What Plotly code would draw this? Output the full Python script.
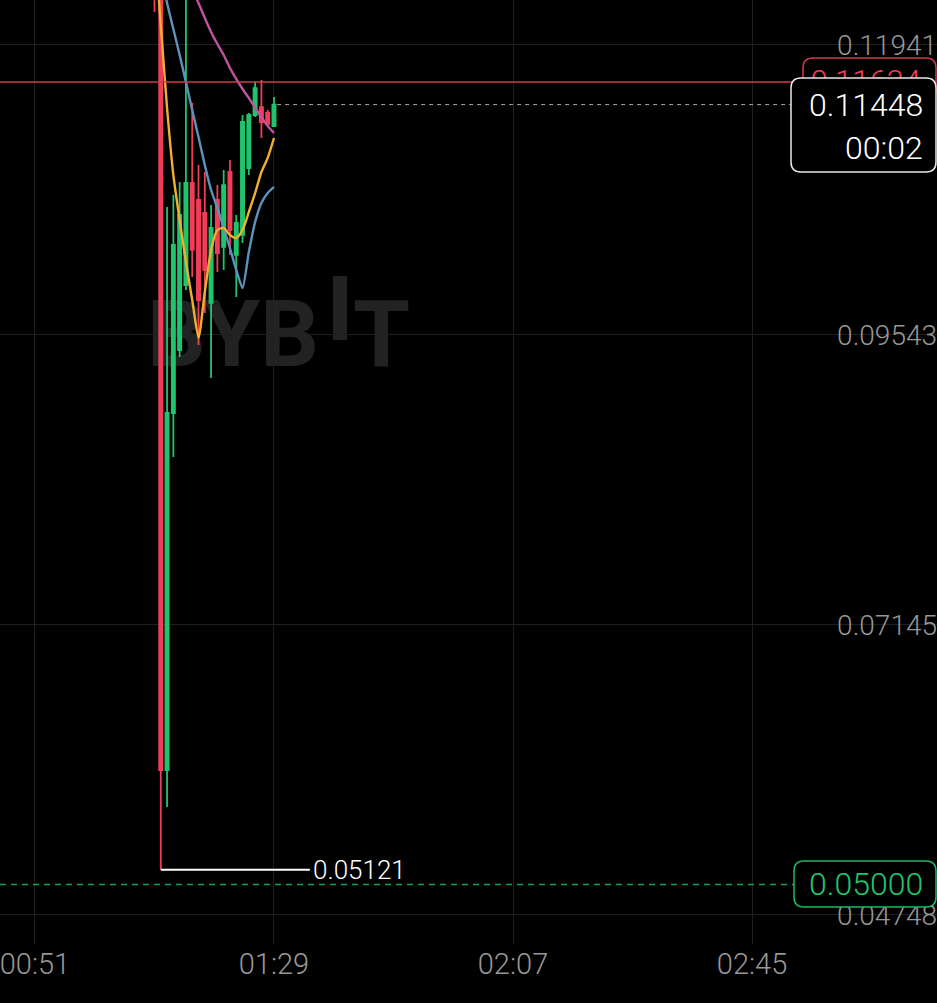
import plotly.graph_objects as go

# ---------------- data ----------------
times  = ["01:10", "01:11", "01:12", "01:13", "01:14", "01:15", "01:16", "01:17", "01:18", "01:19",
          "01:20", "01:21", "01:22", "01:23", "01:24", "01:25", "01:26", "01:27", "01:28", "01:29"]
opens  = [0.12975, 0.12809, 0.05946, 0.08898, 0.09419, 0.09956, 0.10800, 0.10659, 0.10552, 0.09808,
          0.10659, 0.10271, 0.10891, 0.10205, 0.10370, 0.10924, 0.11362, 0.11428, 0.11379, 0.11271]
highs  = [0.13140, 0.12892, 0.10601, 0.10701, 0.10808, 0.12644, 0.11461, 0.10949, 0.10891, 0.10618,
          0.10783, 0.10907, 0.10990, 0.10535, 0.11362, 0.11379, 0.11635, 0.11652, 0.11404, 0.11511]
lows   = [0.12214, 0.05121, 0.05640, 0.08534, 0.09361, 0.09915, 0.10023, 0.09460, 0.09725, 0.09187,
          0.10064, 0.10080, 0.10205, 0.09857, 0.10304, 0.10866, 0.11346, 0.11172, 0.11271, 0.11263]
closes = [0.12396, 0.05946, 0.08898, 0.10287, 0.10535, 0.10800, 0.10246, 0.09832, 0.10080, 0.10428,
          0.10221, 0.10783, 0.10411, 0.10469, 0.11304, 0.11362, 0.11585, 0.11304, 0.11288, 0.11448]

ma_times  = times
ma_yellow = [0.12809, 0.12106, 0.11420, 0.10866, 0.10494, 0.10147, 0.09832, 0.09518, 0.09899, 0.10246,
             0.10411, 0.10428, 0.10370, 0.10345, 0.10411, 0.10560, 0.10717, 0.10891, 0.11007, 0.11172]
ma_blue   = [0.12727, 0.12520, 0.12288, 0.12073, 0.11858, 0.11635, 0.11404, 0.11180, 0.10949, 0.10742,
             0.10593, 0.10428, 0.10262, 0.10081, 0.09932, 0.10229, 0.10477, 0.10635, 0.10717, 0.10767]
ma_pink_times = times[3:]
ma_pink   = [0.12768, 0.12644, 0.12520, 0.12396, 0.12288, 0.12164, 0.12049, 0.11949, 0.11858, 0.11751,
             0.11660, 0.11577, 0.11503, 0.11420, 0.11346, 0.11271, 0.11213]

y_tick_vals = [0.11941, 0.09543, 0.07145, 0.04748]
x_tick_labels = ["00:51", "01:29", "02:07", "02:45"]
last_price = 0.11448
countdown = "00:02"
ref_price = 0.11634
order_price = 0.05000

# ---------------- helpers ----------------
def to_min(t):
    h, m = t.split(":")
    return int(h) * 60 + int(m)

W, H = 937, 944  # plot area in px (for decorative boxes)
def px(x):
    return x / W
def py(y):
    return 1 - y / H

def rrect(x0, y0, x1, y1, r):
    rx, ry = r / W, r / H
    X0, X1 = px(x0), px(x1)
    Y0, Y1 = py(y0), py(y1)
    return (f"M {X0+rx},{Y0} L {X1-rx},{Y0} Q {X1},{Y0} {X1},{Y0-ry} "
            f"L {X1},{Y1+ry} Q {X1},{Y1} {X1-rx},{Y1} L {X0+rx},{Y1} "
            f"Q {X0},{Y1} {X0},{Y1+ry} L {X0},{Y0-ry} Q {X0},{Y0} {X0+rx},{Y0} Z")

xs = [to_min(t) for t in times]
GREEN = "#1fc46d"
RED = "#f03d58"
GRID = "#1e1e1e"
TICK = "#979797"
FONT = "Roboto"

fig = go.Figure()

fig.add_trace(go.Candlestick(
    x=xs, open=opens, high=highs, low=lows, close=closes,
    increasing=dict(line=dict(color=GREEN, width=1.8), fillcolor=GREEN),
    decreasing=dict(line=dict(color=RED, width=1.8), fillcolor=RED),
    whiskerwidth=0, hoverinfo="skip", showlegend=False,
))

fig.add_trace(go.Scatter(x=[to_min(t) for t in ma_times], y=ma_blue, mode="lines",
                         line=dict(color="#5b93bd", width=2.4, shape="spline", smoothing=0.6),
                         hoverinfo="skip", showlegend=False))
fig.add_trace(go.Scatter(x=[to_min(t) for t in ma_times], y=ma_yellow, mode="lines",
                         line=dict(color="#f0b02c", width=2.4, shape="spline", smoothing=0.6),
                         hoverinfo="skip", showlegend=False))
fig.add_trace(go.Scatter(x=[to_min(t) for t in ma_pink_times], y=ma_pink, mode="lines",
                         line=dict(color="#c2549f", width=2.4, shape="spline", smoothing=0.6),
                         hoverinfo="skip", showlegend=False))

# lowest-low marker line
low_val = min(lows)
low_x = xs[lows.index(low_val)]
fig.add_trace(go.Scatter(x=[low_x, low_x + 23.7], y=[low_val, low_val], mode="lines",
                         line=dict(color="#ffffff", width=2), hoverinfo="skip", showlegend=False))
fig.add_annotation(x=low_x + 23.9, y=low_val, text=f"{low_val:.5f}", showarrow=False,
                   xanchor="left", yanchor="middle",
                   font=dict(family=FONT, size=26, color="#ffffff", weight=300))

shapes = []
# watermark
shapes.append(dict(type="rect", xref="paper", yref="paper", x0=px(130), x1=px(325), y0=py(365), y1=py(290),
                   line=dict(width=0), fillcolor="rgba(0,0,0,0)", layer="below",
                   label=dict(text="<b>BYB</b>", textposition="middle right",
                              font=dict(family=FONT, size=92, color="#222222"))))
shapes.append(dict(type="rect", xref="paper", yref="paper", x0=px(333), x1=px(347), y0=py(340), y1=py(276),
                   line=dict(width=0), fillcolor="#222222", layer="below"))
shapes.append(dict(type="rect", xref="paper", yref="paper", x0=px(348), x1=px(415), y0=py(365), y1=py(290),
                   line=dict(width=0), fillcolor="rgba(0,0,0,0)", layer="below",
                   label=dict(text="<b>T</b>", textposition="middle center",
                              font=dict(family=FONT, size=92, color="#222222"))))
# price lines
shapes.append(dict(type="line", xref="paper", yref="y", x0=0, x1=px(805), y0=ref_price, y1=ref_price,
                   line=dict(color="#d13a4c", width=1.5), layer="above"))
shapes.append(dict(type="line", xref="x", yref="y", x0=xs[-1] + 0.5, x1=171.2, y0=last_price, y1=last_price,
                   line=dict(color="#aaaaaa", width=1, dash="4px,4px"), layer="above"))
shapes.append(dict(type="line", xref="paper", yref="y", x0=0, x1=px(794), y0=order_price, y1=order_price,
                   line=dict(color="#1a9e5a", width=1.5, dash="6px,5px"), layer="above"))
# red label box (mostly hidden)
shapes.append(dict(type="path", xref="paper", yref="paper", path=rrect(803, 58, 936, 101, 10),
                   line=dict(color="#d13a4c", width=1.5), fillcolor="#000000", layer="above",
                   label=dict(text=f"{ref_price:.5f}", textposition="middle right",
                              font=dict(family=FONT, size=31, color=RED, weight=300), padding=12)))
# last price box
shapes.append(dict(type="path", xref="paper", yref="paper", path=rrect(791, 78, 936, 172, 10),
                   line=dict(color="#e8e8e8", width=1.5), fillcolor="#000000", layer="above"))
# order price box
shapes.append(dict(type="path", xref="paper", yref="paper", path=rrect(794, 861, 936, 907, 10),
                   line=dict(color="#1fb866", width=1.5), fillcolor="#000000", layer="above"))

fig.add_annotation(xref="paper", yref="paper", x=px(925), y=py(105), text=f"{last_price:.5f}",
                   showarrow=False, xanchor="right", yanchor="middle",
                   font=dict(family=FONT, size=32, color="#ffffff", weight=300))
fig.add_annotation(xref="paper", yref="paper", x=px(925), y=py(148), text=countdown,
                   showarrow=False, xanchor="right", yanchor="middle",
                   font=dict(family=FONT, size=32, color="#ffffff", weight=300))
fig.add_annotation(xref="paper", yref="paper", x=px(925), y=py(884), text=f"{order_price:.5f}",
                   showarrow=False, xanchor="right", yanchor="middle",
                   font=dict(family=FONT, size=32, color="#22c46f", weight=300))

fig.update_layout(
    width=937, height=1003, autosize=False,
    paper_bgcolor="#000000", plot_bgcolor="#000000",
    margin=dict(l=0, r=0, t=0, b=59, pad=0),
    showlegend=False, hovermode=False,
    boxgap=0.5, boxgroupgap=0,
    shapes=shapes,
    xaxis=dict(range=[45.44, 194.41], tickvals=[to_min(t) for t in x_tick_labels], ticktext=x_tick_labels,
               showgrid=True, gridcolor=GRID, gridwidth=1, zeroline=False, showline=False, ticks="",
               ticklabeloverflow="allow",
               tickfont=dict(family=FONT, size=29, color=TICK, weight=300),
               rangeslider=dict(visible=False), fixedrange=True),
    yaxis=dict(range=[0.04507, 0.12313], side="right", tickvals=y_tick_vals,
               ticktext=[f"{v:.5f}" for v in y_tick_vals], ticklabelposition="inside",
               ticklabeloverflow="allow", ticklabelstandoff=-3,
               showgrid=True, gridcolor=GRID, gridwidth=1, zeroline=False, showline=False, ticks="",
               tickfont=dict(family=FONT, size=28, color=TICK, weight=300), fixedrange=True),
)

fig.write_html("out.html", config={"displayModeBar": False},
               post_script="document.body.style.margin='0';document.body.style.background='#000';"
                           "document.body.style.overflow='hidden';")
